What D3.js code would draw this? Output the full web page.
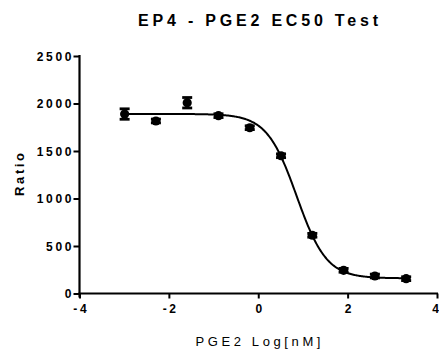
<!DOCTYPE html>
<html><head><meta charset="utf-8">
<script src="https://cdn.jsdelivr.net/npm/d3@7"></script>
<style>body{margin:0;background:#fff}svg{display:block}text{font-family:Arial,"Liberation Sans",sans-serif;fill:#000}</style>
</head><body><svg id="c" width="439" height="352"></svg>
<script>
const logConc = [-2.99, -2.29, -1.59, -0.89, -0.19, 0.51, 1.21, 1.91, 2.61, 3.31];
const ratio   = [1889, 1816, 2008, 1872, 1745, 1450, 613, 244, 184, 156];
const errSD   = [55, 20, 55, 20, 20, 20, 20, 20, 20, 20];
const fitParams = [1890, 160, 0.86, 1.3]; // top, bottom, logEC50, hill
const xTicks = [-4, -2, 0, 2, 4];
const yTicks = [0, 500, 1000, 1500, 2000, 2500];

const svg = d3.select("#c");
const x = d3.scaleLinear().domain([-4, 4]).range([79.5, 437]);
const y = d3.scaleLinear().domain([0, 2500]).range([293.5, 56]);

// axes
const gx = svg.append("g").attr("transform", "translate(0,293.5)")
  .call(d3.axisBottom(x).tickValues(xTicks).tickSize(5).tickPadding(6).tickFormat(d => String(d)));
const gy = svg.append("g").attr("transform", "translate(79.5,0)")
  .call(d3.axisLeft(y).tickValues(yTicks).tickSize(6).tickPadding(2).tickFormat(d => String(d)));
[gx, gy].forEach(g => {
  g.attr("font-family", 'Arial,"Liberation Sans",sans-serif').attr("font-size", 12).attr("font-weight", "bold");
  g.select(".domain").attr("stroke", "#000").attr("stroke-width", 2.2);
  g.selectAll(".tick line").attr("stroke", "#000").attr("stroke-width", 2);
  g.selectAll(".tick text").style("font-weight", "bold").style("letter-spacing", "2.7px").attr("fill", "#000");
});
gx.select(".domain").attr("d", `M${x(-4)-1},0H${x(4)+1}`);
gy.select(".domain").attr("d", `M0,${y(2500)-1}V${y(0)+4}`);
gy.selectAll(".tick text").attr("dx", "2.7px").attr("dy", "0.36em");
gx.selectAll(".tick text").attr("dx", d => d === 4 ? "-2px" : "1.3px")
  .style("letter-spacing", d => d === 4 ? "0px" : "2.7px");

// fit curve
const [fTop, fBottom, logEC50, hill] = fitParams;
const curveX = d3.range(-2.99, 3.311, 0.02);
const line = d3.line().x(d => x(d)).y(d => y(fBottom + (fTop - fBottom) / (1 + Math.pow(10, (d - logEC50) * hill))));
svg.append("path").datum(curveX).attr("d", line).attr("fill", "none").attr("stroke", "#000").attr("stroke-width", 2);

// error bars
const eb = svg.append("g").attr("stroke", "#000").attr("stroke-width", 2.8);
logConc.forEach((c, i) => {
  const cx = x(c), y1 = y(ratio[i] + errSD[i]), y2 = y(ratio[i] - errSD[i]);
  eb.append("line").attr("x1", cx).attr("x2", cx).attr("y1", y1).attr("y2", y2);
  eb.append("line").attr("x1", cx - 5).attr("x2", cx + 5).attr("y1", y1).attr("y2", y1);
  eb.append("line").attr("x1", cx - 5).attr("x2", cx + 5).attr("y1", y2).attr("y2", y2);
});

// points
svg.append("g").selectAll("circle").data(logConc).join("circle")
  .attr("cx", d => x(d)).attr("cy", (d, i) => y(ratio[i])).attr("r", 4.6).attr("fill", "#000");

// title and labels
svg.append("text").attr("x", 258 + 1.9).attr("y", 26).attr("text-anchor", "middle")
  .style("font-size", "16px").style("font-weight", "bold").style("letter-spacing", "3.8px")
  .text("EP4 - PGE2 EC50 Test");
svg.append("text").attr("x", 258 + 1.8).attr("y", 346).attr("text-anchor", "middle")
  .style("font-size", "13px").style("letter-spacing", "3.6px")
  .text("PGE2 Log[nM]");
svg.append("text").attr("transform", "translate(24,174.5) rotate(-90)").attr("text-anchor", "middle")
  .attr("dx", "1.3px")
  .style("font-size", "13px").style("font-weight", "bold").style("letter-spacing", "2.6px")
  .text("Ratio");
</script></body></html>
